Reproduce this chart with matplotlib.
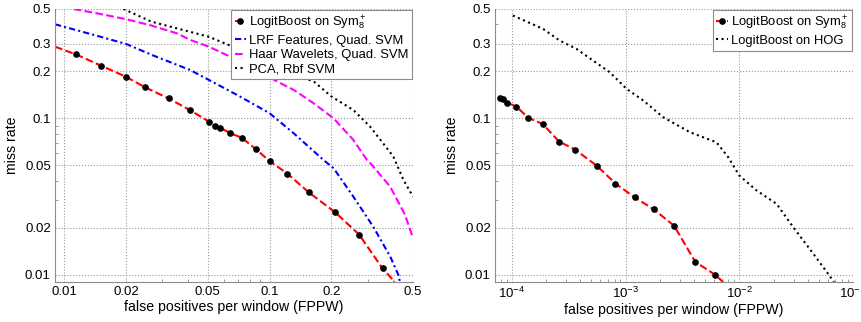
import numpy as np
import matplotlib
matplotlib.use("Agg")
import matplotlib.pyplot as plt
from matplotlib.ticker import FixedLocator, FixedFormatter, LogLocator, NullFormatter

plt.rcParams['font.family'] = ['Liberation Sans', 'DejaVu Sans']
plt.rcParams['mathtext.fontset'] = 'custom'
plt.rcParams['mathtext.rm'] = 'Liberation Sans'
plt.rcParams['mathtext.it'] = 'Liberation Sans:italic'
plt.rcParams['font.size'] = 9.5

# left panel: comparison with other features / classifiers
logit_x = [0.009, 0.0114, 0.0151, 0.0199, 0.0247, 0.0322, 0.041, 0.0506, 0.054, 0.0573,
           0.0643, 0.073, 0.0854, 0.1, 0.1222, 0.155, 0.2087, 0.273, 0.355, 0.408]
logit_y = [0.287, 0.256, 0.217, 0.1846, 0.158, 0.134, 0.1127, 0.0953, 0.089, 0.0873,
           0.0803, 0.0753, 0.0638, 0.0533, 0.0443, 0.0337, 0.0251, 0.0181, 0.011, 0.009]

lrf_x = [0.009, 0.0144, 0.0201, 0.0265, 0.041, 0.0506, 0.0719, 0.1, 0.131, 0.183,
         0.205, 0.256, 0.32, 0.387, 0.424, 0.432]
lrf_y = [0.399, 0.337, 0.298, 0.255, 0.2037, 0.176, 0.1376, 0.1078, 0.0803, 0.0542,
         0.048, 0.0316, 0.0203, 0.0131, 0.01, 0.009]

haar_x = [0.0111, 0.0144, 0.0202, 0.0265, 0.0354, 0.041, 0.0506, 0.0667, 0.1127, 0.131,
          0.1636, 0.205, 0.256, 0.298, 0.315, 0.387, 0.457, 0.5]
haar_y = [0.5, 0.469, 0.429, 0.392, 0.349, 0.317, 0.287, 0.242, 0.168, 0.152,
          0.125, 0.1, 0.0728, 0.0542, 0.0504, 0.0366, 0.0242, 0.01715]

pca_x = [0.0194, 0.0265, 0.0506, 0.0693, 0.166, 0.2, 0.256, 0.309, 0.401, 0.449, 0.5]
pca_y = [0.5, 0.415, 0.332, 0.28, 0.17, 0.138, 0.113, 0.0885, 0.057, 0.0404, 0.0316]

# right panel: Sym8+ vs HOG
sym_x = [7.9e-5, 8.28e-5, 9.0e-5, 1.094e-4, 1.395e-4, 1.86e-4, 2.6e-4, 3.59e-4, 5.6e-4,
         8.15e-4, 1.2e-3, 1.77e-3, 2.67e-3, 4.1e-3, 6.15e-3, 7.2e-3]
sym_y = [0.134, 0.132, 0.126, 0.119, 0.1007, 0.0922, 0.0711, 0.0632, 0.0497,
         0.0383, 0.0313, 0.0262, 0.0206, 0.0121, 0.01, 0.009]

hog_x = [1.02e-4, 1.88e-4, 2.63e-4, 3.69e-4, 5.17e-4, 7.26e-4, 1.02e-3, 1.43e-3, 2.14e-3,
         3.68e-3, 6.3e-3, 8.0e-3, 1e-2, 1.42e-2, 2.13e-2, 2.99e-2, 4.49e-2, 5.9e-2, 6.8e-2]
hog_y = [0.454, 0.373, 0.314, 0.278, 0.234, 0.197, 0.1543, 0.13, 0.1017,
         0.0815, 0.0703, 0.0564, 0.0431, 0.0346, 0.0284, 0.0201, 0.0136, 0.0104, 0.009]

y_ticks = [0.01, 0.02, 0.05, 0.1, 0.2, 0.3, 0.5]
y_labels = ['0.01', '0.02', '0.05', '0.1', '0.2', '0.3', '0.5']
x_ticks_left = [0.01, 0.02, 0.05, 0.1, 0.2, 0.5]
x_labels_left = ['0.01', '0.02', '0.05', '0.1', '0.2', '0.5']

sym_label = r'LogitBoost on Sym$_8^+$'

fig = plt.figure(figsize=(8.61, 3.22), dpi=100)
ax1 = fig.add_axes([0.0639, 0.1242, 0.4158, 0.848])
ax2 = fig.add_axes([0.5749, 0.1242, 0.4158, 0.848])


def style_axes(ax):
    ax.set_xscale('log')
    ax.set_yscale('log')
    ax.set_ylim(0.009, 0.5)
    ax.yaxis.set_major_locator(FixedLocator(y_ticks))
    ax.yaxis.set_major_formatter(FixedFormatter(y_labels))
    ax.yaxis.set_minor_locator(LogLocator(base=10, subs=np.arange(2, 10)))
    ax.yaxis.set_minor_formatter(NullFormatter())
    ax.grid(True, which='major', linestyle=':', color='0.6', linewidth=0.8)
    for s in ['top', 'right']:
        ax.spines[s].set_visible(False)
    for s in ['left', 'bottom']:
        ax.spines[s].set_color('0.55')
        ax.spines[s].set_linewidth(0.8)
    ax.tick_params(which='both', direction='in', color='0.55', labelcolor='black')
    ax.tick_params(which='major', length=0, pad=3)
    ax.tick_params(which='minor', length=2.5)
    ax.set_xlabel('false positives per window (FPPW)', fontsize=10.2, labelpad=1)
    ax.set_ylabel('miss rate', fontsize=10.2, labelpad=4)


def add_legend(ax):
    leg = ax.legend(loc='upper right', borderaxespad=0.05, fancybox=False, framealpha=1,
                    edgecolor='0.55', handlelength=0.9, handletextpad=0.2,
                    labelspacing=0.18, borderpad=0.3, numpoints=1, fontsize=9.4)
    leg.get_frame().set_linewidth(0.8)


ax1.plot(logit_x, logit_y, color='red', linestyle='--', linewidth=1.5,
         marker='o', markersize=3.8, markerfacecolor='black', markeredgecolor='black',
         markevery=slice(1, -1), label=sym_label)
ax1.plot(lrf_x, lrf_y, color='blue', linestyle=(0, (3, 1.5, 1, 1.5)), linewidth=1.5,
         label='LRF Features, Quad. SVM')
ax1.plot(haar_x, haar_y, color='magenta', linestyle='--', linewidth=1.5,
         label='Haar Wavelets, Quad. SVM')
ax1.plot(pca_x, pca_y, color='black', linestyle=':', linewidth=1.5,
         label='PCA, Rbf SVM')
style_axes(ax1)
ax1.set_xlim(0.009, 0.5)
ax1.xaxis.set_major_locator(FixedLocator(x_ticks_left))
ax1.xaxis.set_major_formatter(FixedFormatter(x_labels_left))
ax1.xaxis.set_minor_locator(LogLocator(base=10, subs=np.arange(2, 10)))
ax1.xaxis.set_minor_formatter(NullFormatter())
add_legend(ax1)

ax2.plot(sym_x, sym_y, color='red', linestyle='--', linewidth=1.5,
         marker='o', markersize=3.8, markerfacecolor='black', markeredgecolor='black',
         markevery=slice(0, -1), label=sym_label)
ax2.plot(hog_x, hog_y, color='black', linestyle=':', linewidth=1.5,
         label='LogitBoost on HOG')
style_axes(ax2)
ax2.set_xlim(7.1e-5, 0.1)
ax2.xaxis.set_major_locator(LogLocator(base=10, numticks=10))
ax2.xaxis.set_minor_locator(LogLocator(base=10, subs=np.arange(2, 10), numticks=20))
ax2.xaxis.set_minor_formatter(NullFormatter())
add_legend(ax2)

fig.savefig('out.png', dpi=100)
